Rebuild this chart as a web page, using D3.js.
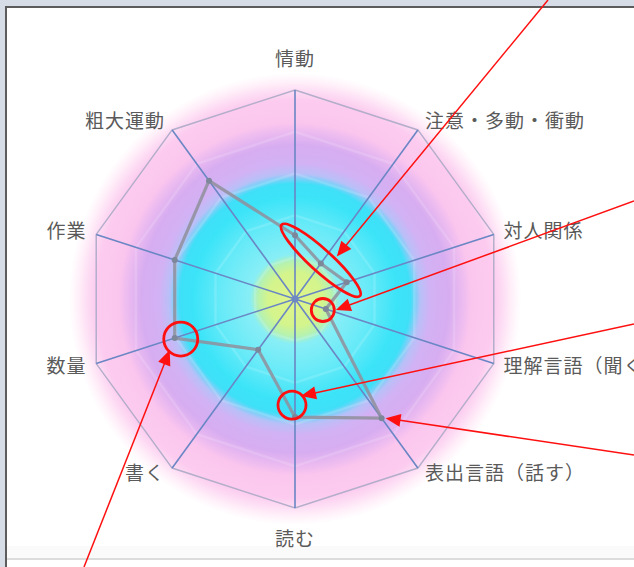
<!DOCTYPE html>
<html><head><meta charset="utf-8">
<script src="https://cdn.jsdelivr.net/npm/d3@7"></script>
<style>html,body{margin:0;padding:0;background:#fff;overflow:hidden}svg{display:block}</style>
</head><body><svg id="c" width="634" height="567"></svg>
<script>
// ---- data ----
const categories = ["情動","注意・多動・衝動","対人関係","理解言語（聞く）","表出言語（話す）","読む","書く","数量","作業","粗大運動"];
const values = [3.05, 2.1, 2.6, 1.55, 7.05, 5.65, 3.0, 6.05, 6.05, 7.0];
const gridLevels = [2, 4, 6, 8];
const maxValue = 10;

// annotation layer (red marks drawn over the chart)
const annoCircles = [ {idx:3, dx:-3, dy:1, r:11.5}, {idx:5, dx:-3, dy:-12, r:14}, {idx:7, dx:6, dy:1, r:17} ];
const annoArrows = [
  {idx:1, dx:16, dy:-7, tail:[548,0]},
  {idx:3, dx:10, dy:1, tail:[634,201]},
  {idx:5, dx:6, dy:-21, tail:[634,324]},
  {idx:4, dx:4, dy:0, tail:[634,455]},
  {idx:7, dx:-5, dy:12, tail:[84,567]}
];
const annoEllipse = [0, 1, 2];

// ---- layout ----
const W = 634, H = 567, cx = 295, cy = 299, R = 209;
const svg = d3.select("#c");
const n = categories.length;
const angle = d3.scaleLinear().domain([0, n]).range([0, 2 * Math.PI]);
const r = d3.scaleLinear().domain([0, maxValue]).range([0, R]);
const px = (i, v) => cx + r(v) * Math.sin(angle(i));
const py = (i, v) => cy - r(v) * Math.cos(angle(i));

// frame
svg.append("rect").attr("width", W).attr("height", H).attr("fill", "#d6dde7");
svg.append("rect").attr("x", 6).attr("y", 7).attr("width", W - 6).attr("height", H - 7).attr("fill", "#fff");
svg.append("rect").attr("x", 7).attr("y", 546).attr("width", W - 7).attr("height", 12).attr("fill", "#fafafa");
svg.append("line").attr("x1", 7).attr("x2", W).attr("y1", 559).attr("y2", 559).attr("stroke", "#dcdcdc").attr("stroke-width", 2);
svg.append("path").attr("d", `M6,${H}V7H${W}`).attr("fill", "none").attr("stroke", "#5c5c5c").attr("stroke-width", 2);

const defs = svg.append("defs");
const grad = defs.append("radialGradient").attr("id", "bg")
  .attr("gradientUnits", "userSpaceOnUse").attr("cx", cx).attr("cy", cy).attr("r", 226);
[[0, "#e0f68a"], [0.12, "#d4f48c"], [0.165, "#b6f2b0"], [0.2, "#88eef6"], [0.33, "#68eaf8"], [0.45, "#3ce4f8"], [0.51, "#3ee0f8"],
 [0.555, "#b8c0f8"], [0.6, "#d2b2f4"], [0.68, "#d7adf1"], [0.735, "#e9b9f0"], [0.78, "#fbc6ee"], [0.88, "#fccbef"], [0.92, "#fddcf4"], [0.96, "#fff0f9"], [1, "#ffffff"]]
  .forEach(([o, c]) => grad.append("stop").attr("offset", o).attr("stop-color", c));

const blur = defs.append("filter").attr("id", "soft");
blur.append("feGaussianBlur").attr("stdDeviation", 0.6);

const g = svg.append("g");
g.append("circle").attr("cx", cx).attr("cy", cy).attr("r", 226).attr("fill", "url(#bg)");

const chart = g.append("g").attr("transform", `translate(${cx},${cy})`).attr("filter", "url(#soft)");
const ring = lvl => d3.lineRadial().angle((d, i) => angle(i)).radius(() => r(lvl)).curve(d3.curveLinearClosed)(categories);

// faint inner grid
chart.selectAll(".grid").data(gridLevels).join("path")
  .attr("d", d => ring(d)).attr("fill", "none").attr("stroke", "#ffffff").attr("stroke-opacity", 0.14).attr("stroke-width", 2.5);
// outer decagon
chart.append("path").attr("d", ring(maxValue)).attr("fill", "none").attr("stroke", "#b4aecb").attr("stroke-width", 1.5);
// spokes
chart.selectAll(".spoke").data(categories).join("line")
  .attr("x1", 0).attr("y1", 0)
  .attr("x2", (d, i) => r(maxValue) * Math.sin(angle(i)))
  .attr("y2", (d, i) => -r(maxValue) * Math.cos(angle(i)))
  .attr("stroke", "#6a86c4").attr("stroke-width", 1.6);
// data polygon
const dataLine = d3.lineRadial().angle((d, i) => angle(i)).radius(d => r(d)).curve(d3.curveLinearClosed);
chart.append("path").attr("d", dataLine(values)).attr("fill", "none")
  .attr("stroke", "#8f8f9c").attr("stroke-opacity", 0.85).attr("stroke-width", 3.2).attr("stroke-linejoin", "round");
chart.selectAll(".pt").data(values).join("circle")
  .attr("cx", (d, i) => r(d) * Math.sin(angle(i)))
  .attr("cy", (d, i) => -r(d) * Math.cos(angle(i)))
  .attr("r", 3).attr("fill", "#7d879a");
chart.append("circle").attr("r", 3.5).attr("fill", "#6e88c4");

// labels
svg.append("g").selectAll("text").data(categories).join("text")
  .each(function (d, i) {
    const a = angle(i), s = Math.sin(a), c = Math.cos(a);
    const vx = px(i, maxValue), vy = py(i, maxValue);
    let x, y, anchor;
    if (Math.abs(s) < 0.1) { anchor = "middle"; x = vx; y = c > 0 ? vy - 33 : vy + 29; }
    else {
      anchor = s > 0 ? "start" : "end";
      x = vx + Math.sign(s) * (3 + 7 * Math.abs(s));
      y = vy + (c > 0 ? -2 - 10 * c : -1 - 6 * c);
    }
    d3.select(this).attr("x", x).attr("y", y).attr("text-anchor", anchor);
  })
  .attr("dominant-baseline", "central")
  .attr("font-family", "'Noto Sans CJK JP', sans-serif").attr("font-size", 19).attr("letter-spacing", 1)
  .attr("fill", "#5a5a5a").text(d => d);

// annotations
const ann = svg.append("g").attr("fill", "none").attr("stroke", "#ff1010");
const ex = annoEllipse.map(i => [px(i, values[i]), py(i, values[i])]);
const ecx = d3.mean(ex, d => d[0]), ecy = d3.mean(ex, d => d[1]);
const first = ex[0], last = ex[ex.length - 1];
const rot = Math.atan2(last[1] - first[1], last[0] - first[0]) * 180 / Math.PI;
const half = Math.hypot(last[0] - first[0], last[1] - first[1]) / 2;
ann.append("ellipse").attr("cx", 0).attr("cy", 0).attr("rx", half + 18).attr("ry", 11)
  .attr("transform", `translate(${ecx},${ecy}) rotate(${rot})`).attr("stroke-width", 2.8);
ann.selectAll(".ac").data(annoCircles).join("circle")
  .attr("cx", d => px(d.idx, values[d.idx]) + d.dx).attr("cy", d => py(d.idx, values[d.idx]) + d.dy)
  .attr("r", d => d.r).attr("stroke-width", 2.8);
annoArrows.forEach(d => {
  const tx = px(d.idx, values[d.idx]) + d.dx, ty = py(d.idx, values[d.idx]) + d.dy;
  const [sx, sy] = d.tail;
  const L = Math.hypot(tx - sx, ty - sy), ux = (tx - sx) / L, uy = (ty - sy) / L;
  const hl = 15, hw = 6.5;
  const bx = tx - ux * hl, by = ty - uy * hl;
  ann.append("line").attr("x1", sx).attr("y1", sy).attr("x2", bx + ux * 2).attr("y2", by + uy * 2).attr("stroke-width", 1.5);
  ann.append("path").attr("stroke", "none").attr("fill", "#ff1010")
    .attr("d", `M${tx},${ty}L${bx - uy * hw},${by + ux * hw}L${bx + uy * hw},${by - ux * hw}Z`);
});
</script></body></html>
